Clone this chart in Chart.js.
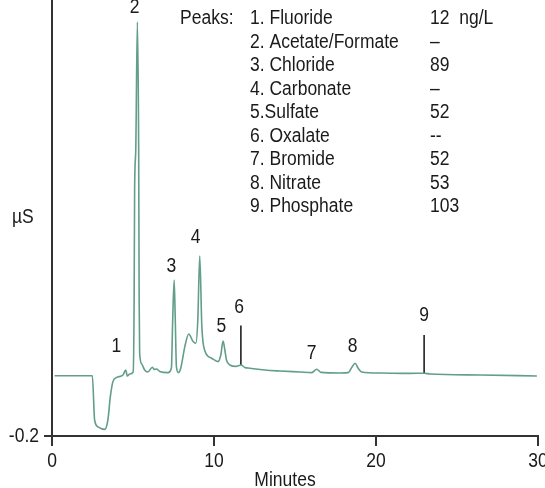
<!DOCTYPE html>
<html>
<head>
<meta charset="utf-8">
<script src="https://cdn.jsdelivr.net/npm/chart.js@4/dist/chart.umd.min.js"></script>
<style>
  html, body { margin: 0; padding: 0; background: #fff; }
  #chart { display: block; }
</style>
</head>
<body>
<canvas id="chart" width="545" height="488"></canvas>
<script>
// Chromatogram trace (minutes, µS)
const times = [0.16, 2.49, 2.63, 2.84, 3.25, 3.45, 3.60, 3.76, 3.97, 4.38,
    4.55, 4.65, 4.80, 5.01, 5.07, 5.10, 5.17, 5.27, 5.35, 5.38,
    5.41, 5.54, 5.72, 5.91, 6.20, 6.31, 6.45, 6.65, 7.16, 7.37,
    7.45, 7.54, 7.61, 7.68, 7.81, 7.95, 8.20, 8.44, 8.71, 8.88,
    9.00, 9.12, 9.25, 9.43, 9.85, 10.25, 10.42, 10.56, 10.67, 10.77,
    10.98, 11.35, 11.66, 11.90, 12.21, 13.14, 14.07, 15.31, 16.04, 16.34,
    16.60, 17.78, 18.29, 18.52, 18.71, 18.89, 19.12, 20.25, 22.10, 22.97,
    23.34, 26.43, 29.93];
const signal = [0.101, 0.101, -0.12, -0.154, -0.167, -0.12, -0.004, 0.072, 0.092, 0.105,
    0.13, 0.10, 0.11, 0.12, 0.48, 1.03, 1.23, 1.87, 1.23, 0.48,
    0.215, 0.16, 0.13, 0.12, 0.144, 0.133, 0.135, 0.123, 0.117, 0.14,
    0.38, 0.58, 0.38, 0.147, 0.117, 0.14, 0.247, 0.31, 0.272, 0.264,
    0.38, 0.70, 0.347, 0.227, 0.189, 0.172, 0.205, 0.275, 0.23, 0.18,
    0.155, 0.148, 0.155, 0.143, 0.139, 0.13, 0.125, 0.12, 0.117, 0.134,
    0.118, 0.115, 0.117, 0.145, 0.164, 0.14, 0.12, 0.115, 0.113, 0.114,
    0.11, 0.105, 0.10];

// Peak number labels (anchor in minutes / µS)
const peakNums = ['1', '2', '3', '4', '5', '6', '7', '8', '9'];
const labelTimes = [3.97, 5.10, 7.37, 8.86, 10.46, 11.55, 16.03, 18.56, 22.97];
const labelLevels = [0.2465, 1.9435, 0.6465, 0.7935, 0.35, 0.4415, 0.2135, 0.2465, 0.405];

// Marker lines for peaks 6 and 9
const markerTimes = [11.66, 22.97];
const markerLow = [0.155, 0.1135];
const markerHigh = [0.352, 0.305];

// Peaks table
const peakNames = ['1. Fluoride', '2. Acetate/Formate', '3. Chloride', '4. Carbonate',
    '5.Sulfate', '6. Oxalate', '7. Bromide', '8. Nitrate', '9. Phosphate'];
const peakAmounts = ['12  ng/L', '\u2013', '89', '\u2013', '52', '--', '52', '53', '103'];

const xTicks = [0, 10, 20, 30];
const yTicks = [-0.2];

const FONT = '"Liberation Sans", Arial, sans-serif';
const INK = '#1a1a1a';
const NARROW = 0.875;

// condensed text: squeeze horizontally around the anchor
function narrowText(ctx, text, x, y, align) {
    ctx.save();
    ctx.translate(x, y);
    ctx.scale(NARROW, 1);
    ctx.textAlign = align;
    ctx.fillText(text, 0, 0);
    ctx.restore();
}

const textLayer = {
    id: 'textLayer',
    afterDraw(chart) {
        const ctx = chart.ctx;
        const x = chart.scales.x, y = chart.scales.y;
        ctx.save();
        ctx.fillStyle = INK;
        ctx.font = '20px ' + FONT;
        ctx.textBaseline = 'middle';

        // tick labels
        xTicks.forEach(v => narrowText(ctx, String(v), x.getPixelForValue(v), 461, 'center'));
        yTicks.forEach(v => narrowText(ctx, v.toFixed(1), 39, y.getPixelForValue(v), 'right'));
        narrowText(ctx, 'Minutes', (x.left + x.right) / 2 - 10, 480, 'center');
        narrowText(ctx, '\u00b5S', 12, 217, 'left');

        peakNums.forEach((n, i) => {
            narrowText(ctx, n, x.getPixelForValue(labelTimes[i]), y.getPixelForValue(labelLevels[i]), 'center');
        });

        // table
        const rowH = 23.55;
        narrowText(ctx, 'Peaks:', 180, 18.5, 'left');
        peakNames.forEach((name, i) => {
            narrowText(ctx, name, 250, 18.5 + i * rowH, 'left');
            narrowText(ctx, peakAmounts[i], 430, 18.5 + i * rowH, 'left');
        });
        ctx.restore();
    }
};

const datasets = [{
    data: times.map((t, i) => ({ x: t, y: signal[i] })),
    borderColor: '#629e89',
    borderWidth: 1.6,
    pointRadius: 0,
    cubicInterpolationMode: 'monotone',
    fill: false
}];
markerTimes.forEach((t, i) => {
    datasets.push({
        data: [{ x: t, y: markerLow[i] }, { x: t, y: markerHigh[i] }],
        borderColor: '#111',
        borderWidth: 1.5,
        pointRadius: 0
    });
});

new Chart(document.getElementById('chart'), {
    type: 'line',
    data: { datasets },
    plugins: [textLayer],
    options: {
        responsive: false,
        animation: false,
        devicePixelRatio: 1,
        layout: { padding: { top: 0, left: 0, right: 7, bottom: 0 } },
        plugins: { legend: { display: false }, tooltip: { enabled: false } },
        scales: {
            x: {
                type: 'linear',
                min: 0,
                max: 30,
                afterBuildTicks: (s) => { s.ticks = xTicks.map(v => ({ value: v })); },
                afterFit: (s) => { s.height = 52; s.paddingLeft = 0; s.paddingRight = 0; },
                border: { color: '#333', width: 2 },
                grid: { drawOnChartArea: false, drawTicks: true, tickLength: 10, color: '#333', lineWidth: 2 },
                ticks: { display: false }
            },
            y: {
                type: 'linear',
                min: -0.2,
                max: 1.98,
                afterBuildTicks: (s) => { s.ticks = yTicks.map(v => ({ value: v })); },
                afterFit: (s) => { s.width = 52; s.paddingTop = 0; s.paddingBottom = 0; },
                border: { color: '#333', width: 2 },
                grid: { drawOnChartArea: false, drawTicks: true, tickLength: 8, color: '#333', lineWidth: 2 },
                ticks: { display: false }
            }
        }
    }
});
</script>
</body>
</html>
